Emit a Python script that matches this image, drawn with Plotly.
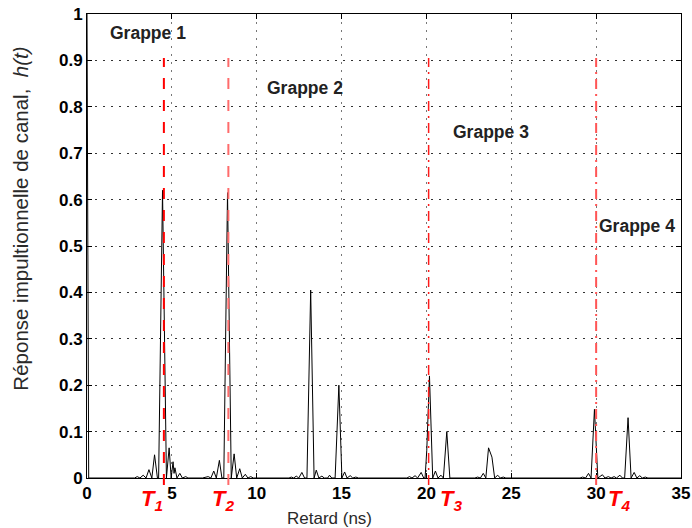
import plotly.graph_objects as go

# ---- data: channel impulse response h(t) ----
delay_ns = [
    0.00, 0.10,
    2.80, 2.96, 3.12, 3.31, 3.48, 3.65, 3.82, 3.98, 4.15, 4.22, 4.45, 4.68, 4.84, 4.96,
    5.07, 5.13, 5.18, 5.30, 5.47, 5.62, 5.82, 5.95,
    6.80, 7.14, 7.30, 7.47, 7.62, 7.80, 7.95, 8.06, 8.28, 8.50, 8.67, 8.82, 9.00, 9.15,
    9.33, 9.48, 9.65, 9.80,
    11.90, 12.04, 12.18, 12.33, 12.48, 12.66, 12.82, 12.96, 13.18, 13.38, 13.51, 13.66,
    13.84, 13.98, 14.18, 14.29, 14.42, 14.62, 14.84, 15.02, 15.18, 15.32, 15.51, 15.66,
    15.84, 16.00,
    18.85, 19.00, 19.15, 19.33, 19.48, 19.69, 19.84, 19.92, 20.02, 20.18, 20.37, 20.53,
    20.68, 20.86, 21.00, 21.20, 21.38,
    22.85, 23.02, 23.18, 23.35, 23.50, 23.66, 23.86, 24.02, 24.20, 24.35, 24.53, 24.68,
    29.05, 29.20, 29.38, 29.55, 29.70, 29.90, 30.10, 30.37, 30.52, 30.72, 30.88, 31.06,
    31.20, 31.40, 31.55, 31.68, 31.88, 32.06, 32.24, 32.40, 32.57, 32.72, 32.90, 33.05,
    35.00,
]
amplitude = [
    1.000, 0.000,
    0.000, 0.003, 0.000, 0.006, 0.000, 0.018, 0.000, 0.050, 0.000, 0.000, 0.620, 0.000, 0.065, 0.000,
    0.035, 0.010, 0.022, 0.000, 0.010, 0.000, 0.003, 0.000,
    0.000, 0.003, 0.000, 0.015, 0.000, 0.038, 0.000, 0.000, 0.615, 0.000, 0.052, 0.000, 0.020, 0.000,
    0.008, 0.000, 0.003, 0.000,
    0.000, 0.002, 0.000, 0.004, 0.000, 0.012, 0.000, 0.000, 0.405, 0.000, 0.017, 0.000,
    0.004, 0.000, 0.000, 0.006, 0.000, 0.000, 0.200, 0.000, 0.013, 0.000, 0.005, 0.000,
    0.002, 0.000,
    0.000, 0.003, 0.000, 0.005, 0.000, 0.012, 0.000, 0.000, 0.060, 0.220, 0.000, 0.015,
    0.000, 0.006, 0.000, 0.100, 0.000,
    0.000, 0.002, 0.000, 0.010, 0.000, 0.065, 0.045, 0.000, 0.006, 0.000, 0.002, 0.000,
    0.000, 0.002, 0.000, 0.010, 0.000, 0.148, 0.000, 0.007, 0.000, 0.003, 0.000, 0.003,
    0.000, 0.006, 0.000, 0.000, 0.130, 0.000, 0.012, 0.000, 0.005, 0.000, 0.002, 0.000,
    0.000,
]

# cluster arrival times
cluster_times = [4.53, 8.33, 20.13, 30.00]
cluster_labels = ["T<sub>1</sub>", "T<sub>2</sub>", "T<sub>3</sub>", "T<sub>4</sub>"]
group_names = ["Grappe 1", "Grappe 2", "Grappe 3", "Grappe 4"]

x_ticks = [0, 5, 10, 15, 20, 25, 30, 35]
y_ticks = [0, 0.1, 0.2, 0.3, 0.4, 0.5, 0.6, 0.7, 0.8, 0.9, 1]
y_tick_text = ["0", "0.1", "0.2", "0.3", "0.4", "0.5", "0.6", "0.7", "0.8", "0.9", "1"]

# ---- styles ----
FONT = "Liberation Sans, Arial, sans-serif"
line_styles = [
    dict(color="#ff0000", width=2, dash="11px,11px"),
    dict(color="#ff6b6b", width=2, dash="11px,11px"),
    dict(color="#ff1a1a", width=1.5, dash="10px,5px,2px,5px"),
    dict(color="#ff5555", width=2, dash="10px,5px,2px,5px"),
]
label_shift = [-12, -5, 22, 23]
group_pos = [(1.24, 0.959), (10.47, 0.84), (21.47, 0.746), (30.06, 0.543)]

fig = go.Figure()
fig.add_trace(go.Scatter(
    x=delay_ns, y=amplitude, mode="lines",
    line=dict(color="black", width=1),
    showlegend=False, hoverinfo="skip",
))

for t, lab, st, sh in zip(cluster_times, cluster_labels, line_styles, label_shift):
    fig.add_shape(type="line", xref="x", yref="paper", x0=t, x1=t, y0=-0.015, y1=0.905,
                  line=st, layer="above")
    fig.add_annotation(x=t, xref="x", y=-0.047, yref="paper", xshift=sh,
                       text="<b><i>" + lab + "</i></b>", showarrow=False,
                       font=dict(family=FONT, size=22, color="#ff0000"),
                       xanchor="center", yanchor="middle")

for name, (gx, gy) in zip(group_names, group_pos):
    fig.add_annotation(x=gx, y=gy, xref="x", yref="y", text="<b>" + name + "</b>",
                       showarrow=False, xanchor="left", yanchor="middle",
                       font=dict(family=FONT, size=17.5, color="#222222"))

fig.add_annotation(x=0.409, y=-0.087, xref="paper", yref="paper", text="Retard (ns)",
                   showarrow=False, xanchor="center", yanchor="middle",
                   font=dict(family=FONT, size=17, color="#2a2a2a"))
fig.add_annotation(x=-0.112, y=0.56, xref="paper", yref="paper",
                   text="Réponse impultionnelle de canal,&nbsp; <i>h(t)</i>",
                   textangle=-90, showarrow=False, xanchor="center", yanchor="middle",
                   font=dict(family=FONT, size=20.5, color="#2a2a2a"))

fig.update_xaxes(range=[0, 35], tickvals=x_ticks, ticks="inside", ticklen=5,
                 tickcolor="black", showline=True, linecolor="black", linewidth=1,
                 mirror="ticks", showgrid=True, gridcolor="#777777", gridwidth=1,
                 griddash="2px,6px", zeroline=False, automargin=False,
                 tickfont=dict(family=FONT, size=17, color="black", weight="bold"))
fig.update_yaxes(range=[0, 1], tickvals=y_ticks, ticktext=y_tick_text, ticks="inside",
                 ticklen=5, tickcolor="black", showline=True, linecolor="black",
                 linewidth=1, mirror="ticks", showgrid=True, gridcolor="#333333",
                 gridwidth=1, griddash="2px,6px", zeroline=False, automargin=False,
                 tickfont=dict(family=FONT, size=17, color="black", weight="bold"))

fig.update_layout(
    width=692, height=528,
    margin=dict(l=87, r=11, t=14, b=50, autoexpand=False),
    plot_bgcolor="white", paper_bgcolor="white",
    showlegend=False,
)

fig.write_html(
    "out.html",
    config={"displayModeBar": False},
    post_script="document.body.style.margin='0';document.body.style.overflow='hidden';",
)
